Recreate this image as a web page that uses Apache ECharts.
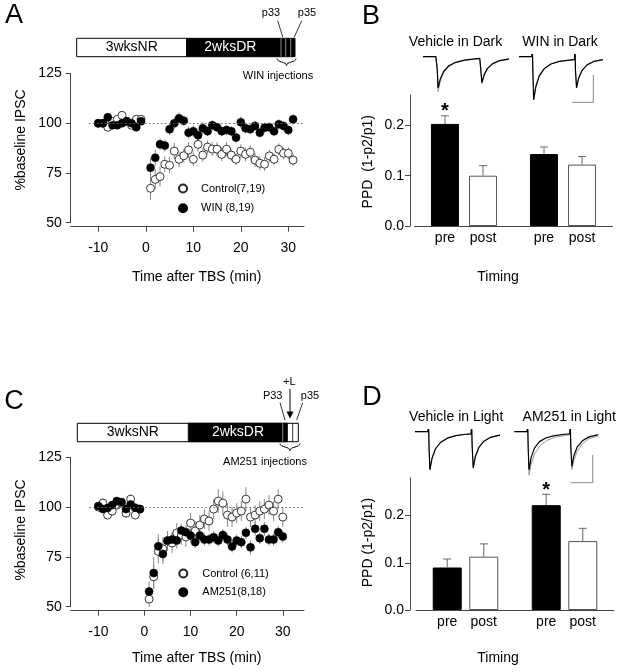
<!DOCTYPE html>
<html><head><meta charset="utf-8">
<script src="https://cdn.jsdelivr.net/npm/echarts@6/dist/echarts.min.js"></script>
<style>html,body{margin:0;padding:0;background:#fff}#c{width:622px;height:672px}</style>
</head><body><div id="c"></div>
<script>
const FONT = 'Liberation Sans, Arial, Helvetica, sans-serif';

// ---------- Panel A data ----------
const timeA = [-10,-9,-8,-7,-6,-5,-4,-3,-2,-1,1,2,3,4,5,6,7,8,9,10,11,12,13,14,15,16,17,18,19,20,21,22,23,24,25,26,27,28,29,30,31];
const ctrlA = [100,100,98,101,102,104,101,99,102,102,67.3,71.8,73.2,79.4,78.9,86,81.9,83.7,86.6,81.9,89.4,84,88,87,87,84.4,87,84,81.9,86,84.4,85.4,81.5,79.9,79.4,83.6,81.9,86.9,84.9,84.9,81.5];
const ctrlAErr = [1.5,1.5,1.5,1.5,1.5,1.5,1.5,1.5,1.5,1.5,6,5,5,4,4,4,4,3.5,4,3.5,4,3.5,3.5,3.5,3.5,3.5,3.5,3,3,3.5,3.5,3.5,3.5,3.5,3.5,3,3,3,3,3,3];
const winA = [100,100,103,99,99,100,101,100,98,101,77.7,82.7,89.4,88.8,97,100,102.5,101.3,95.3,96,94,97.5,96,99,98,96,96.6,96,92.8,100.5,97.5,97,98.7,95.3,97.8,98,96,99.5,98.7,96.6,102];
const winAErr = [1.5,1.5,1.5,1.5,1.5,1.5,1.5,1.5,1.5,1.5,5,4,3,3,3,3,3,2.5,3,3,3,3,2.5,2.5,2.5,2.5,2.5,2.5,2.5,3,2.5,2.5,2.5,2.5,2.5,2.5,2.5,2.5,2.5,2.5,2.5];

// ---------- Panel C data ----------
const timeC = [-10,-9,-8,-7,-6,-5,-4,-3,-2,-1,1,2,3,4,5,6,7,8,9,10,11,12,13,14,15,16,17,18,19,20,21,22,23,24,25,26,27,28,29,30];
const ctrlC = [100,102,96,98,101,102,97,104,96,99,53.8,65,77.8,79,83,82,87,86,85,92,88,91,94,93,99,103,102,96,95,97,98,104,95,96,98,99,101,98,104,95];
const ctrlCErr = [2,2.5,2,2,2,2,2.5,2.5,2,2,4,6,6,6,5,5,5,5,5,5,5,5,5,5,5,6,6,6,5,5,5,6,5,5,5,5,5,5,5,5];
const am251C = [100.5,99,99.5,101,103,102.5,99,101.3,99.7,99,57.6,66.9,80.3,76.5,83.2,83.7,83.2,88.2,87.4,85.7,82.4,85.7,83.7,83.7,84.9,83.2,86,83.7,80.2,83.2,82.4,87.1,79.8,89.1,84.4,89.1,83.7,83.7,87.4,85.2];
const am251CErr = [2,2,2,2,2,2,2,2,2,2,5,8,6,5,4,4,4,3.5,3.5,3.5,3,3,3,3,3,3,3,3,3,3,3,3,3.5,3.5,3,3.5,3,3,3,3];
const xTicks = [-10,0,10,20,30];
const yTicksScatter = [50,75,100,125];

// ---------- Panels B / D bar data ----------
const groupsB = ['Vehicle in Dark','WIN in Dark'];
const preB = [0.203,0.143], preBErr = [0.016,0.014], preBSig = [1,0];
const postB = [0.100,0.122], postBErr = [0.020,0.016], postBSig = [0,0];
const groupsD = ['Vehicle in Light','AM251 in Light'];
const preD = [0.090,0.222], preDErr = [0.018,0.023], preDSig = [0,1];
const postD = [0.113,0.146], postDErr = [0.027,0.027], postDSig = [0,0];
const yTicksBar = [0,0.1,0.2];

// ---------- Example traces (normalised current) ----------
const tTrace = [0,15,16,16.6,17.5,20,24,30,38,48,60,66,66.6,67.2,68.5,71,75,81,89,100];
const trVehDarkBlack = [0,0,0.03,-0.3,-0.72,-0.52,-0.34,-0.21,-0.13,-0.08,-0.05,-0.04,-0.02,-0.3,-0.6,-0.42,-0.27,-0.16,-0.09,-0.05];
const trVehDarkGrey  = [0,0,0.03,-0.3,-0.81,-0.58,-0.37,-0.23,-0.14,-0.09,-0.06,-0.05,-0.03,-0.3,-0.62,-0.44,-0.28,-0.17,-0.1,-0.06];
const trWinDarkBlack = [0,0,0.1,-0.4,-1.0,-0.7,-0.45,-0.28,-0.17,-0.11,-0.08,-0.07,0.25,-0.3,-0.72,-0.5,-0.32,-0.19,-0.11,-0.07];
const trWinDarkGrey  = [0,0,0.1,-0.4,-0.96,-0.67,-0.43,-0.27,-0.17,-0.11,-0.08,-0.07,0.25,-0.3,-0.7,-0.48,-0.31,-0.19,-0.11,-0.07];
const trVehLightBlack = [0,0,0.1,-0.4,-0.88,-0.62,-0.4,-0.25,-0.15,-0.09,-0.06,-0.05,0.2,-0.3,-0.84,-0.58,-0.37,-0.22,-0.13,-0.08];
const trVehLightGrey  = [0,0,0.1,-0.4,-0.86,-0.6,-0.39,-0.24,-0.15,-0.09,-0.06,-0.05,0.2,-0.3,-0.82,-0.56,-0.36,-0.22,-0.13,-0.08];
const trAmLightBlack = [0,0,0.1,-0.4,-0.88,-0.6,-0.38,-0.23,-0.14,-0.09,-0.06,-0.05,0.2,-0.3,-0.8,-0.55,-0.35,-0.21,-0.12,-0.07];
const trAmLightGrey  = [0,0,0.1,-0.4,-1.0,-0.76,-0.52,-0.34,-0.21,-0.13,-0.09,-0.07,0.2,-0.3,-0.88,-0.66,-0.45,-0.28,-0.16,-0.1];

// ---------- helpers ----------
const AX = '#444';
function zip3(a,b,c){ return a.map((v,i)=>[v,b[i],c[i]]); }
function scatterX(gi,min,max){
  return {gridIndex:gi,type:'value',min:min,max:max,offset:4,
    axisLine:{onZero:false,lineStyle:{color:AX,width:1}},
    axisTick:{length:5,customValues:xTicks,lineStyle:{color:AX}},
    axisLabel:{customValues:xTicks,margin:14,fontSize:14,color:'#000',fontFamily:FONT},
    splitLine:{show:false}};
}
function scatterY(gi){
  return {gridIndex:gi,type:'value',min:50,max:125,interval:25,
    axisLine:{show:true,onZero:false,lineStyle:{color:AX,width:1}},
    axisTick:{show:true,length:5,lineStyle:{color:AX}},
    axisLabel:{margin:9,fontSize:14,color:'#000',fontFamily:FONT},
    splitLine:{show:false}};
}
function barX(gi,cats){
  return {gridIndex:gi,type:'category',data:cats,
    axisLine:{onZero:false,lineStyle:{color:AX,width:1}},axisTick:{show:false},axisLabel:{show:false}};
}
function barY(gi,max,off){
  return {gridIndex:gi,type:'value',min:0,max:max,offset:off,
    axisLine:{show:true,onZero:false,lineStyle:{color:AX,width:1}},
    axisTick:{show:true,length:5,customValues:yTicksBar,lineStyle:{color:AX}},
    axisLabel:{customValues:yTicksBar,margin:6,fontSize:14,color:'#000',fontFamily:FONT,formatter:v=>v.toFixed(1)},
    splitLine:{show:false}};
}
function hiddenX(gi){ return {gridIndex:gi,type:'value',min:0,max:100,show:false}; }
function hiddenY(gi){ return {gridIndex:gi,type:'value',min:-1,max:0.05,show:false}; }

function errRender(params, api){
  const x=api.value(0), y=api.value(1), e=api.value(2);
  const p1=api.coord([x,y-e]), p2=api.coord([x,y+e]);
  return {type:'line',shape:{x1:p1[0],y1:p1[1],x2:p2[0],y2:p2[1]},style:{stroke:'#888',lineWidth:1}};
}
function errSeries(gi,data){
  return {type:'custom',xAxisIndex:gi,yAxisIndex:gi,renderItem:errRender,data:data,z:1,silent:true};
}
function barErrSeries(gi,vals,errs,sigs,off){
  const data = vals.map((v,i)=>[i,v,errs[i],sigs[i]]);
  return {type:'custom',xAxisIndex:gi,yAxisIndex:gi,data:data,z:5,silent:true,
    renderItem:function(params,api){
      const c=api.value(0), v=api.value(1), e=api.value(2), s=api.value(3);
      const b=api.coord([c,v]), t=api.coord([c,v+e]);
      const x=b[0]+off;
      const ch=[
        {type:'line',shape:{x1:x,y1:b[1],x2:x,y2:t[1]},style:{stroke:'#666',lineWidth:1}},
        {type:'line',shape:{x1:x-4,y1:t[1],x2:x+4,y2:t[1]},style:{stroke:'#666',lineWidth:1}}
      ];
      if(s){ ch.push({type:'text',x:x,y:t[1]-4,style:{text:'*',fontSize:20,fontWeight:'bold',fill:'#000',align:'center',verticalAlign:'middle',fontFamily:FONT}}); }
      return {type:'group',children:ch};
    }};
}
function barPair(gi,pre,post,bw,gap){
  const lbl = {show:true,position:'bottom',distance:5,formatter:'{a}',fontSize:14,color:'#000',fontFamily:FONT};
  return [
    {type:'bar',name:'pre',xAxisIndex:gi,yAxisIndex:gi,data:pre,barWidth:bw,barGap:gap,
      itemStyle:{color:'#000',borderColor:'#000',borderWidth:1,opacity:1},label:lbl,silent:true},
    {type:'bar',name:'post',xAxisIndex:gi,yAxisIndex:gi,data:post,barWidth:bw,barGap:gap,
      itemStyle:{color:'#fff',borderColor:'#555',borderWidth:1,opacity:1},label:lbl,silent:true}
  ];
}
function trace(gi,vals,color,w){
  return {type:'line',xAxisIndex:gi,yAxisIndex:gi,data:tTrace.map((t,i)=>[t,vals[i]]),
    showSymbol:false,symbol:'none',lineStyle:{color:color,width:w},silent:true,z:color==='#000'?3:2};
}
function txt(x,y,s,size,extra){
  return {type:'text',x:x,y:y,style:Object.assign({text:s,fontSize:size,fill:'#000',fontFamily:FONT,align:'center',verticalAlign:'middle'},extra||{})};
}
function ln(x1,y1,x2,y2,color,w){
  return {type:'line',shape:{x1,y1,x2,y2},style:{stroke:color||'#000',lineWidth:w||1}};
}
function brace(l,r,top){
  const m=(l+r)/2;
  return [
    {type:'bezierCurve',shape:{x1:l,y1:top,cpx1:l,cpy1:top+4,cpx2:m,cpy2:top+3,x2:m,y2:top+7},style:{stroke:'#000',lineWidth:1,fill:null}},
    {type:'bezierCurve',shape:{x1:r,y1:top,cpx1:r,cpy1:top+4,cpx2:m,cpy2:top+3,x2:m,y2:top+7},style:{stroke:'#000',lineWidth:1,fill:null}}
  ];
}

const scatterCommon = {symbol:'circle',symbolSize:8,z:2,silent:true};
const openStyle = {color:'#fff',borderColor:'#222',borderWidth:0.9,opacity:1};
const fillStyle = {color:'#000',borderColor:'#000',borderWidth:0.5,opacity:1};
const refLine = (x1,x2)=>({silent:true,symbol:'none',label:{show:false},lineStyle:{color:'#666',type:[2,2],width:0.8},
  data:[[{coord:[x1,100]},{coord:[x2,100]}]]});

const rot = {rotation:Math.PI/2};
const graphics = [
  // panel letters
  txt(14,16,'A',27), txt(371,17,'B',27), txt(14,402,'C',27), txt(372,398,'D',27),
  // axis titles
  Object.assign(txt(21,140,'%baseline IPSC',14),rot), txt(196.7,276.7,'Time after TBS (min)',14),
  Object.assign(txt(21,530,'%baseline IPSC',14),rot), txt(196.7,658,'Time after TBS (min)',14),
  txt(498,277,'Timing',14), txt(498,658,'Timing',14),
  Object.assign(txt(368.3,161.7,'PPD  (1-p2/p1)',14),rot), Object.assign(txt(368.3,542.5,'PPD (1-p2/p1)',14),rot),
  // timeline A
  {type:'rect',shape:{x:76.7,y:38.3,width:110,height:18.4},style:{fill:'#fff',stroke:'#000',lineWidth:1}},
  {type:'rect',shape:{x:186.7,y:38.3,width:108.3,height:18.4},style:{fill:'#000',stroke:'#000',lineWidth:1}},
  ln(281,38.3,281,56.7,'#aaa',0.8), ln(285.7,38.3,285.7,56.7,'#aaa',0.8), ln(290.7,38.3,290.7,56.7,'#aaa',0.8),
  txt(131.7,47.5,'3wksNR',14), txt(230.3,47.5,'2wksDR',14,{fill:'#fff'}),
  txt(271,13,'p33',11), txt(307,13,'p35',11),
  ln(277.7,20.7,282.7,37,'#000',0.8), ln(301.7,20.7,294.3,37,'#000',0.8),
  ...brace(277,296,58.5),
  txt(278,76,'WIN injections',11),
  // timeline C
  {type:'rect',shape:{x:77.3,y:423.3,width:221,height:18.4},style:{fill:'#fff',stroke:'#000',lineWidth:1}},
  {type:'rect',shape:{x:188.3,y:423.3,width:99,height:18.4},style:{fill:'#000',stroke:'#000',lineWidth:1}},
  ln(282.7,423.3,282.7,441.7,'#aaa',0.8), ln(292.7,423.3,292.7,441.7,'#000',0.8),
  txt(132.8,432.5,'3wksNR',14), txt(238,432.5,'2wksDR',14,{fill:'#fff'}),
  txt(289.3,381.7,'+L',11), txt(272.7,395.7,'P33',11), txt(310,395.7,'p35',11),
  ln(290,389,290,413,'#000',1),
  {type:'polygon',shape:{points:[[286.5,411.5],[293.5,411.5],[290,418.5]]},style:{fill:'#000'}},
  ln(280,402.7,285,420,'#000',0.8), ln(302.7,402.7,296.7,420,'#000',0.8),
  ...brace(280,300,443.5),
  txt(265,461.7,'AM251 injections',11),
  // trace titles
  txt(455.5,41.7,'Vehicle in Dark',14), txt(560,41.7,'WIN in Dark',14),
  txt(456.2,416.7,'Vehicle in Light',14), txt(569.3,416.7,'AM251 in Light',14),
  // scale bars
  ln(593.3,75,593.3,102.3,'#888',1), ln(572,102.3,593.3,102.3,'#888',1),
  ln(592.7,455,592.7,482.7,'#888',1), ln(570.7,482.7,592.7,482.7,'#888',1)
];

const option = {
  animation:false,
  backgroundColor:'#fff',
  textStyle:{fontFamily:FONT},
  grid:[
    {left:70.7,top:73.6,width:233.3,height:149.1},
    {left:414.5,top:95.2,width:198,height:130.8},
    {left:70.7,top:457.3,width:233.3,height:149.4},
    {left:416,top:477.8,width:198,height:132.2},
    {left:423,top:54.5,width:86,height:45.5},
    {left:519,top:54.5,width:84,height:45.5},
    {left:415,top:429.5,width:85,height:45.5},
    {left:514.3,top:429.5,width:84,height:45.5}
  ],
  xAxis:[scatterX(0,-15.8,33.3),barX(1,groupsB),scatterX(2,-16,34.6),barX(3,groupsD),hiddenX(4),hiddenX(5),hiddenX(6),hiddenX(7)],
  yAxis:[scatterY(0),barY(1,0.26,4.5),scatterY(2),barY(3,0.28,6),hiddenY(4),hiddenY(5),hiddenY(6),hiddenY(7)],
  legend:[
    {data:['Control(7,19)','WIN (8,19)'],orient:'vertical',left:178,top:183,padding:0,itemGap:8.7,itemWidth:26,itemHeight:8,
      textStyle:{fontSize:11,color:'#000',fontFamily:FONT},selectedMode:false},
    {data:['Control (6,11)','AM251(8,18)'],orient:'vertical',left:178.3,top:568,padding:0,itemGap:7.7,itemWidth:28,itemHeight:8,
      textStyle:{fontSize:11,color:'#000',fontFamily:FONT},selectedMode:false}
  ],
  graphic:{elements:graphics},
  series:[
    errSeries(0,zip3(timeA,ctrlA,ctrlAErr)),
    errSeries(0,zip3(timeA,winA,winAErr)),
    Object.assign({type:'scatter',name:'Control(7,19)',xAxisIndex:0,yAxisIndex:0,data:timeA.map((t,i)=>[t,ctrlA[i]]),itemStyle:openStyle,markLine:refLine(-12,33.3)},scatterCommon),
    Object.assign({type:'scatter',name:'WIN (8,19)',xAxisIndex:0,yAxisIndex:0,data:timeA.map((t,i)=>[t,winA[i]]),itemStyle:fillStyle},scatterCommon),
    errSeries(2,zip3(timeC,ctrlC,ctrlCErr)),
    errSeries(2,zip3(timeC,am251C,am251CErr)),
    Object.assign({type:'scatter',name:'Control (6,11)',xAxisIndex:2,yAxisIndex:2,data:timeC.map((t,i)=>[t,ctrlC[i]]),itemStyle:openStyle,markLine:refLine(-12,34.6)},scatterCommon),
    Object.assign({type:'scatter',name:'AM251(8,18)',xAxisIndex:2,yAxisIndex:2,data:timeC.map((t,i)=>[t,am251C[i]]),itemStyle:fillStyle},scatterCommon),
    ...barPair(1,preB,postB,28,'36%'),
    barErrSeries(1,preB,preBErr,preBSig,-19),
    barErrSeries(1,postB,postBErr,postBSig,19),
    ...barPair(3,preD,postD,29,'26%'),
    barErrSeries(3,preD,preDErr,preDSig,-18.3),
    barErrSeries(3,postD,postDErr,postDSig,18.3),
    trace(4,trVehDarkGrey,'#999',1), trace(4,trVehDarkBlack,'#000',1.2),
    trace(5,trWinDarkGrey,'#999',1), trace(5,trWinDarkBlack,'#000',1.2),
    trace(6,trVehLightGrey,'#999',1), trace(6,trVehLightBlack,'#000',1.2),
    trace(7,trAmLightGrey,'#999',1), trace(7,trAmLightBlack,'#000',1.2)
  ]
};
const chart = echarts.init(document.getElementById('c'),null,{renderer:'canvas'});
chart.setOption(option);
</script></body></html>
